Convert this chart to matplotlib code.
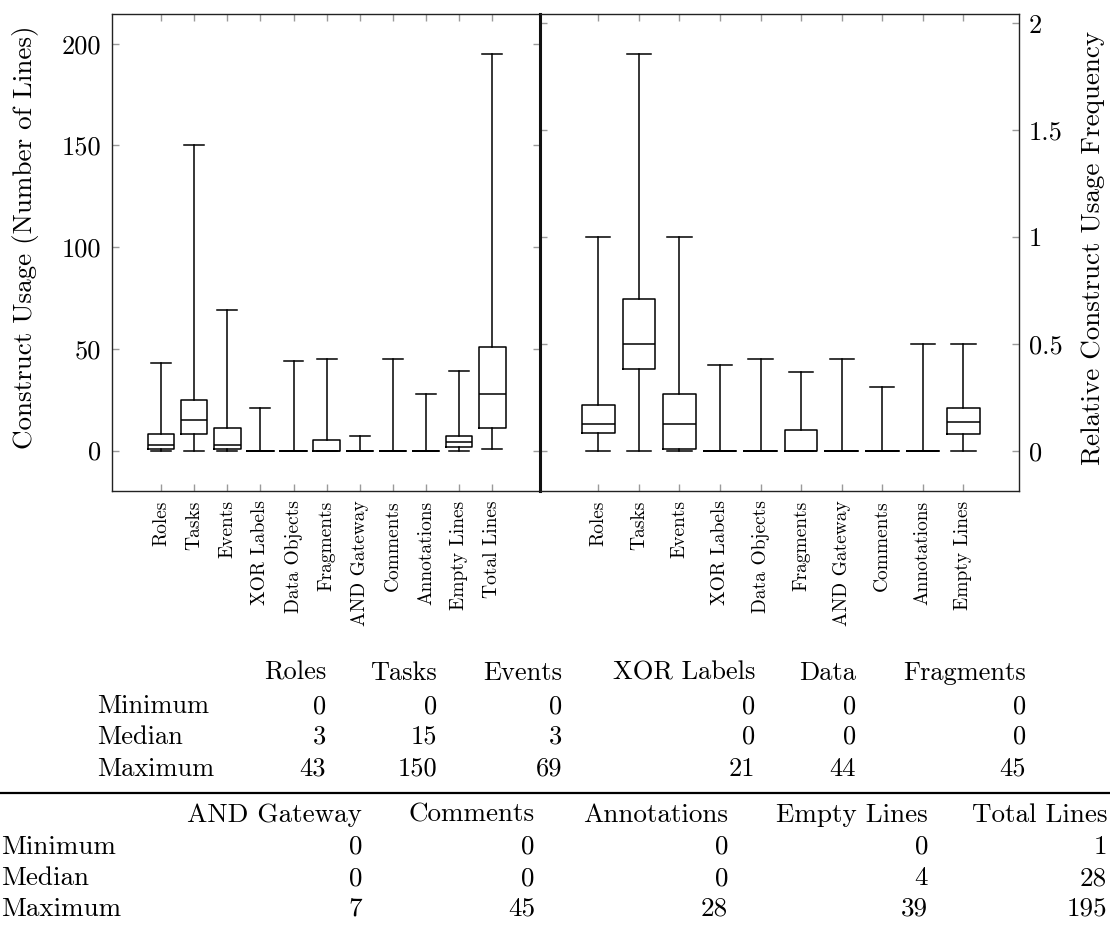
import matplotlib
matplotlib.use("Agg")
import matplotlib.pyplot as plt

plt.rcParams['font.family'] = ['cmr10', 'DejaVu Serif']
plt.rcParams['mathtext.fontset'] = 'cm'
plt.rcParams['axes.unicode_minus'] = False
plt.rcParams['axes.formatter.use_mathtext'] = True

# ---------------- data ----------------
abs_categories = ["Roles", "Tasks", "Events", "XOR Labels", "Data Objects", "Fragments",
                  "AND Gateway", "Comments", "Annotations", "Empty Lines", "Total Lines"]
abs_min = [0, 0, 0, 0, 0, 0, 0, 0, 0, 0, 1]
abs_q1 = [1, 8, 1, 0, 0, 0, 0, 0, 0, 2, 11]
abs_med = [3, 15, 3, 0, 0, 0, 0, 0, 0, 4, 28]
abs_q3 = [8, 25, 11, 0, 0, 5, 0, 0, 0, 7, 51]
abs_max = [43, 150, 69, 21, 44, 45, 7, 45, 28, 39, 195]

rel_categories = ["Roles", "Tasks", "Events", "XOR Labels", "Data Objects", "Fragments",
                  "AND Gateway", "Comments", "Annotations", "Empty Lines"]
rel_min = [0, 0, 0, 0, 0, 0, 0, 0, 0, 0]
rel_q1 = [0.083, 0.38, 0.01, 0, 0, 0, 0, 0, 0, 0.078]
rel_med = [0.125, 0.50, 0.125, 0, 0, 0, 0, 0, 0, 0.134]
rel_q3 = [0.215, 0.71, 0.265, 0, 0, 0.098, 0, 0, 0, 0.20]
rel_max = [1.0, 1.855, 1.0, 0.40, 0.43, 0.37, 0.427, 0.298, 0.5, 0.5]

abs_yticks = [0, 50, 100, 150, 200]
abs_yticklabels = ["0", "50", "100", "150", "200"]
rel_yticks = [0, 0.5, 1, 1.5, 2]
rel_yticklabels = ["0", "0.5", "1", "1.5", "2"]

table_row_labels = ["Minimum", "Median", "Maximum"]
table1_headers = ["Roles", "Tasks", "Events", "XOR Labels", "Data", "Fragments"]
table1_values = [[0, 0, 0, 0, 0, 0],
                 [3, 15, 3, 0, 0, 0],
                 [43, 150, 69, 21, 44, 45]]
table2_headers = ["AND Gateway", "Comments", "Annotations", "Empty Lines", "Total Lines"]
table2_values = [[0, 0, 0, 0, 1],
                 [0, 0, 0, 4, 28],
                 [7, 45, 28, 39, 195]]

# ---------------- figure ----------------
W, H = 1110, 925
fig = plt.figure(figsize=(W / 100, H / 100), dpi=100)


def px_rect(x0, y0, x1, y1):
    return [x0 / W, 1 - y1 / H, (x1 - x0) / W, (y1 - y0) / H]


ax1 = fig.add_axes(px_rect(112, 14, 540, 490.7))
ax2 = fig.add_axes(px_rect(540, 14, 1019, 490.7))

line_kw = dict(color='black', linewidth=1.1)


def draw_boxes(ax, mins, q1s, meds, q3s, maxs):
    stats = []
    for lo, a, m, b, hi in zip(mins, q1s, meds, q3s, maxs):
        stats.append(dict(whislo=lo, q1=a, med=m, q3=b, whishi=hi, fliers=[]))
    pos = list(range(1, len(stats) + 1))
    ax.bxp(stats, positions=pos, widths=0.8, capwidths=0.6, showfliers=False,
           boxprops=line_kw, whiskerprops=line_kw, capprops=line_kw,
           medianprops=line_kw, manage_ticks=False)
    return pos


pos1 = draw_boxes(ax1, abs_min, abs_q1, abs_med, abs_q3, abs_max)
pos2 = draw_boxes(ax2, rel_min, rel_q1, rel_med, rel_q3, rel_max)

ax1.set_xlim(-0.479, 12.44)
ax1.set_ylim(-19.7, 214.6)
ax2.set_xlim(-0.437, 11.37)
ax2.set_ylim(-0.187, 2.043)

tick_col = '#9a9a9a'
for ax, pos, cats in ((ax1, pos1, abs_categories), (ax2, pos2, rel_categories)):
    ax.set_xticks(pos)
    ax.set_xticklabels(cats, rotation=90, fontsize=14, va='top', ha='center')
    ax.tick_params(axis='both', direction='in', length=5, width=1, color=tick_col,
                   top=True, bottom=True, left=True, right=True)
    ax.tick_params(axis='x', pad=7)
    for sp in ax.spines.values():
        sp.set_color('#222222')
        sp.set_linewidth(1.0)

ax1.set_yticks(abs_yticks)
ax1.set_yticklabels(abs_yticklabels, fontsize=19)
ax1.tick_params(axis='y', pad=8, labelleft=True, labelright=False)

ax2.yaxis.tick_right()
ax2.tick_params(axis='y', left=True, right=True, direction='in', length=5,
                color=tick_col, labelleft=False, labelright=True, pad=7)
ax2.set_yticks(rel_yticks)
ax2.set_yticklabels(rel_yticklabels, fontsize=19)
ax2.spines['left'].set_linewidth(2.2)
ax2.spines['left'].set_color('#111111')

fig.text(26 / W, 1 - 237 / H, "Construct Usage (Number of Lines)", rotation=90,
         ha='center', va='center', fontsize=19.5)
fig.text(1093 / W, 1 - 248 / H, "Relative Construct Usage Frequency", rotation=90,
         ha='center', va='center', fontsize=19.5)

# ---------------- tables ----------------


def ptext(x, y, s, ha, fs):
    fig.text(x / W, 1 - y / H, s, ha=ha, va='baseline', fontsize=fs)


t1_fs = 19
t1_right = [326, 437, 562, 755, 856, 1026]
t1_rows_y = [713, 744, 776]
for x, h in zip(t1_right, table1_headers):
    ptext(x, 680, h, 'right', t1_fs)
for r, (lab, y) in enumerate(zip(table_row_labels, t1_rows_y)):
    ptext(97, y, lab, 'left', t1_fs)
    for x, v in zip(t1_right, table1_values[r]):
        ptext(x, y, str(v), 'right', t1_fs)

fig.add_artist(plt.Line2D([0, 1], [1 - 793 / H, 1 - 793 / H], color='black',
                          linewidth=1.6, transform=fig.transFigure))

t2_fs = 19.5
t2_right = [362, 535, 728, 928, 1107]
t2_rows_y = [854, 885, 916]
for x, h in zip(t2_right, table2_headers):
    ptext(x, 822, h, 'right', t2_fs)
for r, (lab, y) in enumerate(zip(table_row_labels, t2_rows_y)):
    ptext(1, y, lab, 'left', t2_fs)
    for x, v in zip(t2_right, table2_values[r]):
        ptext(x, y, str(v), 'right', t2_fs)

fig.savefig("out.png", dpi=100)
